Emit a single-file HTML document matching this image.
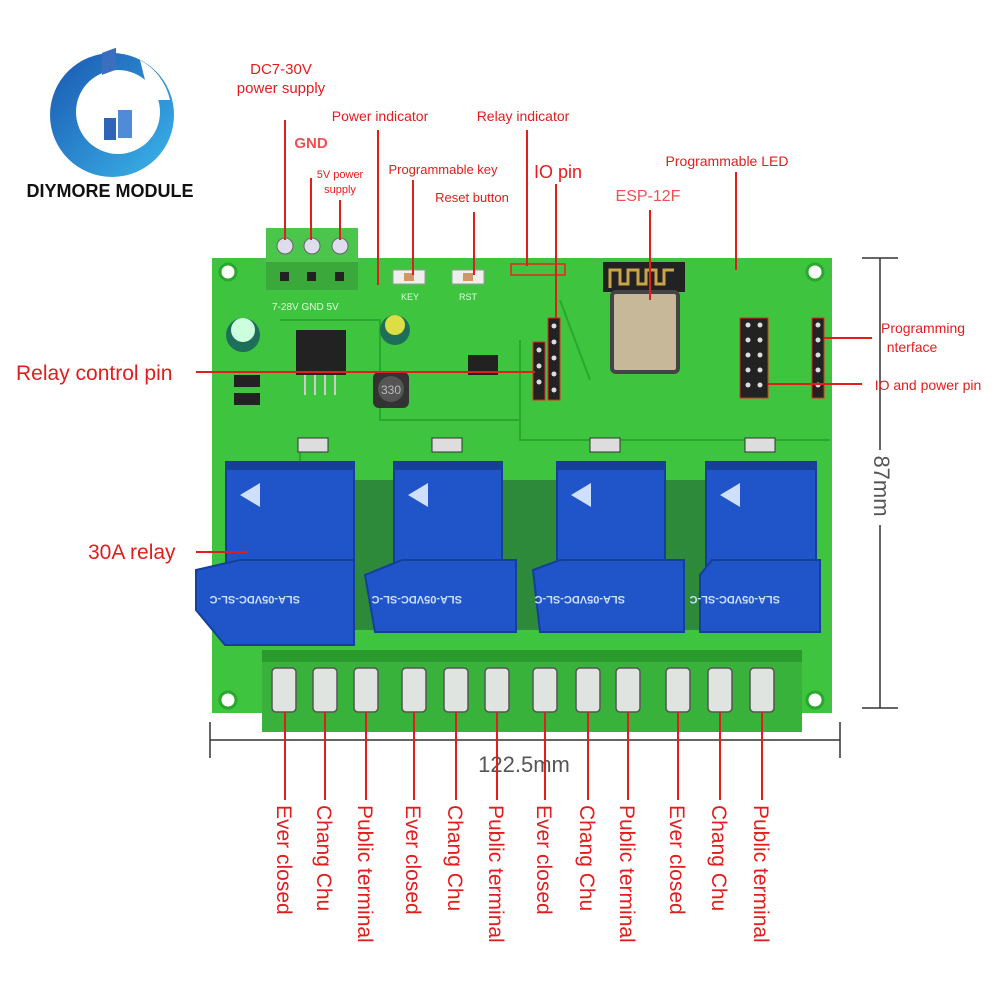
<!DOCTYPE html>
<html><head><meta charset="utf-8"><style>
html,body{margin:0;padding:0;background:#fff}
svg{display:block}
text{font-family:"Liberation Sans",Arial,sans-serif}
</style></head><body>
<svg width="1000" height="1000" viewBox="0 0 1000 1000" xmlns="http://www.w3.org/2000/svg">
<defs>
<linearGradient id="lg" x1="0" y1="0" x2="1" y2="1"><stop offset="0" stop-color="#1a56b0"/><stop offset="1" stop-color="#3bb6ea"/></linearGradient>
</defs>
<!-- logo -->
<circle cx="112" cy="115" r="62" fill="url(#lg)"/>
<circle cx="118" cy="112" r="42" fill="#fff"/>
<path d="M140 60 A60 60 0 0 1 170 100 L150 100 Z" fill="#fff"/>
<rect x="102" y="90" width="14" height="22" fill="#3a6fc0" transform="skewY(-20)"/>
<rect x="118" y="110" width="14" height="28" fill="#4f8bd6"/>
<rect x="104" y="118" width="12" height="22" fill="#2f65b8"/>
<text x="110" y="197" font-size="18" font-weight="bold" text-anchor="middle" fill="#111">DIYMORE MODULE</text>

<!-- board -->
<rect x="212" y="258" width="620" height="455" fill="#3ec43f"/>
<g fill="none" stroke="#2aa82d" stroke-width="2">
<path d="M280 320 L380 320 L380 420 L520 420 M520 340 L520 440 L830 440 M300 440 L300 470 M560 300 L590 380"/>
</g>
<g fill="#fff" stroke="#2aa82d" stroke-width="3"><circle cx="228" cy="272" r="8"/><circle cx="815" cy="272" r="8"/><circle cx="228" cy="700" r="8"/><circle cx="815" cy="700" r="8"/></g>
<!-- input terminal -->
<rect x="266" y="228" width="92" height="62" fill="#4cc54c"/>
<rect x="266" y="262" width="92" height="28" fill="#3aa83b"/>
<g fill="#dde" stroke="#666"><circle cx="285" cy="246" r="8"/><circle cx="312" cy="246" r="8"/><circle cx="340" cy="246" r="8"/></g>
<g fill="#222"><rect x="280" y="272" width="9" height="9"/><rect x="307" y="272" width="9" height="9"/><rect x="335" y="272" width="9" height="9"/></g>
<text x="272" y="310" font-size="10" fill="#dfd">7-28V GND 5V</text>
<!-- caps, regulator -->
<circle cx="243" cy="335" r="17" fill="#1d6f5a"/><circle cx="243" cy="330" r="12" fill="#cfd"/>
<circle cx="395" cy="330" r="15" fill="#1d6f5a"/><circle cx="395" cy="325" r="10" fill="#dd4"/>
<rect x="296" y="330" width="50" height="45" fill="#222"/>
<g stroke="#ccc" stroke-width="2"><line x1="305" y1="375" x2="305" y2="395"/><line x1="315" y1="375" x2="315" y2="395"/><line x1="325" y1="375" x2="325" y2="395"/><line x1="335" y1="375" x2="335" y2="395"/></g>
<rect x="373" y="372" width="36" height="36" rx="6" fill="#333"/><circle cx="391" cy="389" r="13" fill="#555"/><text x="391" y="394" font-size="12" text-anchor="middle" fill="#bbb">330</text>
<rect x="234" y="375" width="26" height="12" fill="#222"/><rect x="234" y="393" width="26" height="12" fill="#222"/>
<rect x="468" y="355" width="30" height="20" fill="#222"/>
<!-- buttons -->
<rect x="393" y="270" width="32" height="14" fill="#eee" stroke="#999"/><rect x="404" y="273" width="10" height="8" fill="#c96"/>
<rect x="452" y="270" width="32" height="14" fill="#eee" stroke="#999"/><rect x="463" y="273" width="10" height="8" fill="#c96"/>
<text x="410" y="300" font-size="9" fill="#dfd" text-anchor="middle">KEY</text><text x="468" y="300" font-size="9" fill="#dfd" text-anchor="middle">RST</text>
<rect x="511" y="264" width="54" height="11" fill="none" stroke="#e22" stroke-width="1.5"/>
<!-- ESP -->
<rect x="603" y="262" width="82" height="30" fill="#222"/>
<path d="M610 288 v-18 h10 v14 h8 v-14 h10 v14 h8 v-14 h10 v14 h8 v-14 h10" fill="none" stroke="#c9a44a" stroke-width="3"/>
<rect x="612" y="292" width="66" height="80" rx="4" fill="#c8b89a" stroke="#444" stroke-width="4"/>
<!-- headers -->
<rect x="548" y="318" width="12" height="82" fill="#222" stroke="#e22"/>
<rect x="533" y="342" width="12" height="58" fill="#222" stroke="#e22"/>
<rect x="740" y="318" width="28" height="80" fill="#222" stroke="#e22"/>
<rect x="812" y="318" width="12" height="80" fill="#222" stroke="#e22"/>
<g fill="#ddd"><circle cx="554" cy="326" r="2.5"/><circle cx="554" cy="342" r="2.5"/><circle cx="554" cy="358" r="2.5"/><circle cx="554" cy="374" r="2.5"/><circle cx="554" cy="390" r="2.5"/>
<circle cx="539" cy="350" r="2.5"/><circle cx="539" cy="366" r="2.5"/><circle cx="539" cy="382" r="2.5"/>
<circle cx="748" cy="325" r="2.5"/><circle cx="760" cy="325" r="2.5"/><circle cx="748" cy="340" r="2.5"/><circle cx="760" cy="340" r="2.5"/><circle cx="748" cy="355" r="2.5"/><circle cx="760" cy="355" r="2.5"/><circle cx="748" cy="370" r="2.5"/><circle cx="760" cy="370" r="2.5"/><circle cx="748" cy="385" r="2.5"/><circle cx="760" cy="385" r="2.5"/>
<circle cx="818" cy="325" r="2.5"/><circle cx="818" cy="340" r="2.5"/><circle cx="818" cy="355" r="2.5"/><circle cx="818" cy="370" r="2.5"/><circle cx="818" cy="385" r="2.5"/></g>
<!-- small smd rows -->
<g fill="#ddd" stroke="#333"><rect x="298" y="438" width="30" height="14"/><rect x="432" y="438" width="30" height="14"/><rect x="590" y="438" width="30" height="14"/><rect x="745" y="438" width="30" height="14"/></g>
<g fill="#2d8a3a"><rect x="354" y="480" width="40" height="150"/><rect x="502" y="480" width="55" height="150"/><rect x="665" y="480" width="41" height="150"/></g>
<!-- relays -->
<g fill="#1f55c8" stroke="#163f9a" stroke-width="2">
<rect x="226" y="462" width="128" height="110"/><path d="M196 570 L240 560 L354 560 L354 645 L225 645 L196 610 Z"/>
<rect x="394" y="462" width="108" height="110"/><path d="M365 575 L402 560 L516 560 L516 632 L375 632 Z"/>
<rect x="557" y="462" width="108" height="110"/><path d="M533 570 L560 560 L684 560 L684 632 L540 632 Z"/>
<rect x="706" y="462" width="110" height="110"/><path d="M700 575 L712 560 L820 560 L820 632 L700 632 Z"/>
</g>
<g fill="#163f9a"><rect x="226" y="462" width="128" height="8"/><rect x="394" y="462" width="108" height="8"/><rect x="557" y="462" width="108" height="8"/><rect x="706" y="462" width="110" height="8"/></g>
<g fill="#cfe0ff" font-size="11" font-weight="bold">
<text transform="translate(300,596) rotate(180)">SLA-05VDC-SL-C</text>
<text transform="translate(462,596) rotate(180)">SLA-05VDC-SL-C</text>
<text transform="translate(625,596) rotate(180)">SLA-05VDC-SL-C</text>
<text transform="translate(780,596) rotate(180)">SLA-05VDC-SL-C</text>
</g>
<g fill="#cfe0ff"><path d="M240 495 l20 -12 l0 24 z"/><path d="M408 495 l20 -12 l0 24 z"/><path d="M571 495 l20 -12 l0 24 z"/><path d="M720 495 l20 -12 l0 24 z"/></g>
<!-- output terminals -->
<rect x="262" y="650" width="540" height="82" fill="#38b23a"/>
<g fill="#2a9a2d"><rect x="262" y="650" width="540" height="12"/></g>
<g fill="#e0e4e0" stroke="#555" stroke-width="1.5">
<rect x="272" y="668" width="24" height="44" rx="4"/><rect x="313" y="668" width="24" height="44" rx="4"/><rect x="354" y="668" width="24" height="44" rx="4"/>
<rect x="402" y="668" width="24" height="44" rx="4"/><rect x="444" y="668" width="24" height="44" rx="4"/><rect x="485" y="668" width="24" height="44" rx="4"/>
<rect x="533" y="668" width="24" height="44" rx="4"/><rect x="576" y="668" width="24" height="44" rx="4"/><rect x="616" y="668" width="24" height="44" rx="4"/>
<rect x="666" y="668" width="24" height="44" rx="4"/><rect x="708" y="668" width="24" height="44" rx="4"/><rect x="750" y="668" width="24" height="44" rx="4"/>
</g>
<!-- dimension lines -->
<g stroke="#333" stroke-width="1.5"><line x1="210" y1="740" x2="840" y2="740"/><line x1="210" y1="722" x2="210" y2="758"/><line x1="840" y1="722" x2="840" y2="758"/>
<line x1="880" y1="258" x2="880" y2="708"/><line x1="862" y1="258" x2="898" y2="258"/><line x1="862" y1="708" x2="898" y2="708"/></g>
<rect x="462" y="748" width="125" height="28" fill="#fff"/>
<text x="524" y="772" font-size="22" fill="#555" text-anchor="middle">122.5mm</text>
<rect x="868" y="450" width="26" height="75" fill="#fff"/>
<text transform="translate(874,486) rotate(90)" font-size="22" fill="#555" text-anchor="middle">87mm</text>

<!-- red leader lines -->
<g stroke="#e21d1d" stroke-width="2">
<line x1="285" y1="120" x2="285" y2="240"/><line x1="311" y1="178" x2="311" y2="240"/><line x1="340" y1="200" x2="340" y2="240"/>
<line x1="378" y1="130" x2="378" y2="285"/><line x1="413" y1="180" x2="413" y2="275"/><line x1="474" y1="212" x2="474" y2="275"/>
<line x1="527" y1="130" x2="527" y2="266"/><line x1="556" y1="184" x2="556" y2="318"/><line x1="650" y1="210" x2="650" y2="300"/>
<line x1="736" y1="172" x2="736" y2="270"/>
<line x1="196" y1="372" x2="535" y2="372"/><line x1="196" y1="552" x2="248" y2="552"/>
<line x1="824" y1="338" x2="872" y2="338"/><line x1="768" y1="384" x2="862" y2="384"/>
<line x1="285" y1="712" x2="285" y2="800"/><line x1="325" y1="712" x2="325" y2="800"/><line x1="366" y1="712" x2="366" y2="800"/>
<line x1="414" y1="712" x2="414" y2="800"/><line x1="456" y1="712" x2="456" y2="800"/><line x1="497" y1="712" x2="497" y2="800"/>
<line x1="545" y1="712" x2="545" y2="800"/><line x1="588" y1="712" x2="588" y2="800"/><line x1="628" y1="712" x2="628" y2="800"/>
<line x1="678" y1="712" x2="678" y2="800"/><line x1="720" y1="712" x2="720" y2="800"/><line x1="762" y1="712" x2="762" y2="800"/>
</g>
<!-- labels -->
<g fill="#e21d1d">
<text x="281" y="74" font-size="15" text-anchor="middle">DC7-30V</text>
<text x="281" y="93" font-size="15" text-anchor="middle">power supply</text>
<text x="311" y="148" font-size="15" font-weight="bold" text-anchor="middle" fill="#f05050">GND</text>
<text x="340" y="178" font-size="11" text-anchor="middle">5V power</text>
<text x="340" y="193" font-size="11" text-anchor="middle">supply</text>
<text x="380" y="121" font-size="14" text-anchor="middle">Power indicator</text>
<text x="443" y="174" font-size="13" text-anchor="middle">Programmable key</text>
<text x="472" y="202" font-size="13" text-anchor="middle">Reset button</text>
<text x="523" y="121" font-size="14" text-anchor="middle">Relay indicator</text>
<text x="558" y="178" font-size="18" text-anchor="middle">IO pin</text>
<text x="648" y="201" font-size="16" text-anchor="middle" fill="#f05050">ESP-12F</text>
<text x="727" y="166" font-size="14" text-anchor="middle">Programmable LED</text>
<text x="923" y="333" font-size="14" text-anchor="middle">Programming</text>
<text x="912" y="352" font-size="14" text-anchor="middle">nterface</text>
<text x="928" y="390" font-size="14" text-anchor="middle">IO and power pin</text>
<text x="16" y="380" font-size="21">Relay control pin</text>
<text x="88" y="559" font-size="21">30A relay</text>
<g font-size="21">
<text transform="translate(277,805) rotate(90)">Ever closed</text>
<text transform="translate(317,805) rotate(90)">Chang Chu</text>
<text transform="translate(358,805) rotate(90)">Public terminal</text>
<text transform="translate(406,805) rotate(90)">Ever closed</text>
<text transform="translate(448,805) rotate(90)">Chang Chu</text>
<text transform="translate(489,805) rotate(90)">Public terminal</text>
<text transform="translate(537,805) rotate(90)">Ever closed</text>
<text transform="translate(580,805) rotate(90)">Chang Chu</text>
<text transform="translate(620,805) rotate(90)">Public terminal</text>
<text transform="translate(670,805) rotate(90)">Ever closed</text>
<text transform="translate(712,805) rotate(90)">Chang Chu</text>
<text transform="translate(754,805) rotate(90)">Public terminal</text>
</g>
</g>
</svg>
</body></html>
